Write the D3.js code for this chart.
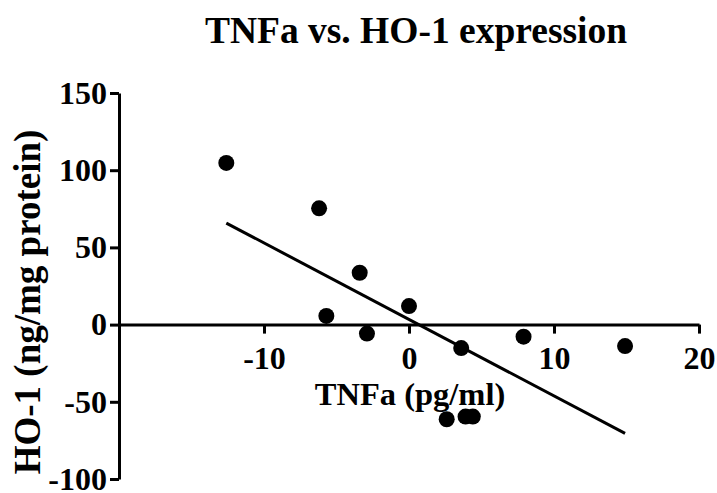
<!DOCTYPE html>
<html>
<head>
<meta charset="utf-8">
<script src="https://cdn.jsdelivr.net/npm/d3@7"></script>
<style>
  body { margin: 0; background: #fff; }
  text { font-family: "Liberation Serif", "Times New Roman", serif; font-weight: bold; fill: #000; }
</style>
</head>
<body>
<div id="chart"></div>
<script>
// data
let tnfa = [-12.6, -6.2, -3.4, 0.0, -5.7, -2.9, 3.6, 7.9, 14.9, 2.6, 3.9, 4.4];
let ho1 = [104.7, 75.3, 33.6, 12.0, 5.6, -5.8, -15.2, -7.8, -13.9, -61.3, -59.6, -59.6];
let xTicks = [-10, 0, 10, 20];
let yTicks = [150, 100, 50, 0, -50, -100];

let svgWidth = 717;
let svgHeight = 493;

let svg = d3.select("#chart")
  .append("svg")
  .attr("width", svgWidth)
  .attr("height", svgHeight);

let xScale = d3.scaleLinear()
  .domain([-20, 20])
  .range([119, 699]);

let yScale = d3.scaleLinear()
  .domain([-100, 150])
  .range([479, 93]);

// title
svg.append("text")
  .attr("x", 416)
  .attr("y", 43)
  .attr("text-anchor", "middle")
  .style("font-size", "37.5px")
  .text("TNFa vs. HO-1 expression");

// plain hyphen for negatives, like the original
let plain = d => d.toString();

// y axis
let leftAxis = d3.axisLeft(yScale)
  .tickValues(yTicks)
  .tickFormat(plain)
  .tickSize(9)
  .tickSizeOuter(0)
  .tickPadding(3);

let yAxisG = svg.append("g")
  .attr("transform", `translate(${xScale(-20)}, 0)`)
  .call(leftAxis);

// x axis sits on y = 0
let bottomAxis = d3.axisBottom(xScale)
  .tickValues(xTicks)
  .tickFormat(plain)
  .tickSize(9)
  .tickSizeOuter(0)
  .tickPadding(13);

let xAxisG = svg.append("g")
  .attr("transform", `translate(0, ${yScale(0)})`)
  .call(bottomAxis);

[yAxisG, xAxisG].forEach(g => {
  g.selectAll("path, line")
    .attr("stroke", "#000")
    .attr("stroke-width", 3);
  g.selectAll("text")
    .style("font-size", "32px")
    .style("font-family", "Liberation Serif")
    .style("font-weight", "bold")
    .attr("fill", "#000");
});

// axis labels
svg.append("text")
  .attr("x", 410)
  .attr("y", 405)
  .attr("text-anchor", "middle")
  .style("font-size", "32.5px")
  .text("TNFa (pg/ml)");

svg.append("text")
  .attr("transform", "rotate(-90)")
  .attr("x", -302)
  .attr("y", 40)
  .attr("text-anchor", "middle")
  .style("font-size", "37px")
  .text("HO-1 (ng/mg protein)");

// linear regression
let mx = d3.mean(tnfa);
let my = d3.mean(ho1);
let sxy = d3.sum(tnfa, (x, i) => (x - mx) * (ho1[i] - my));
let sxx = d3.sum(tnfa, x => (x - mx) * (x - mx));
let slope = sxy / sxx;
let intercept = my - slope * mx;
let xExt = d3.extent(tnfa);

svg.append("line")
  .attr("x1", xScale(xExt[0]))
  .attr("y1", yScale(intercept + slope * xExt[0]))
  .attr("x2", xScale(xExt[1]))
  .attr("y2", yScale(intercept + slope * xExt[1]))
  .attr("stroke", "#000")
  .attr("stroke-width", 3);

// points
svg.selectAll("circle")
  .data(tnfa)
  .enter()
  .append("circle")
  .attr("cx", d => xScale(d))
  .attr("cy", (d, i) => yScale(ho1[i]))
  .attr("r", 8)
  .style("fill", "#000");
</script>
</body>
</html>
